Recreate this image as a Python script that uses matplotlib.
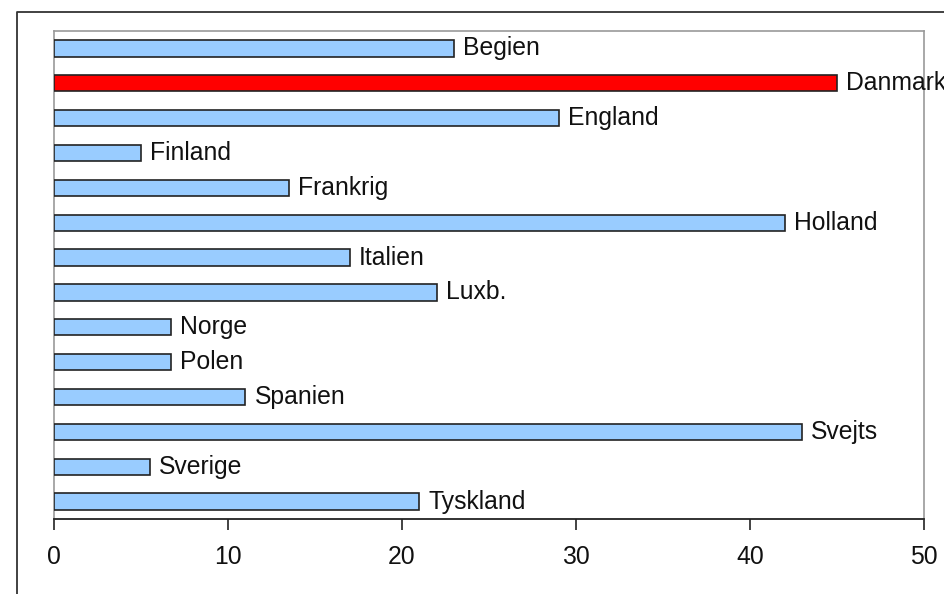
import matplotlib
matplotlib.use("Agg")
import matplotlib.pyplot as plt
from matplotlib.lines import Line2D

categories = ["Begien", "Danmark", "England", "Finland", "Frankrig", "Holland",
              "Italien", "Luxb.", "Norge", "Polen", "Spanien", "Svejts",
              "Sverige", "Tyskland"]
values = [23, 45, 29, 5, 13.5, 42, 17, 22, 6.7, 6.7, 11, 43, 5.5, 21]
highlight = "Danmark"
xticks = [0, 10, 20, 30, 40, 50]

W, H = 944, 594
fig = plt.figure(figsize=(W / 100, H / 100), dpi=100)
fig.patch.set_facecolor("white")

# outer frame (partially visible)
fig.add_artist(Line2D([17 / W, 17 / W, 1.0], [0.0, 1 - 11.5 / H, 1 - 11.5 / H],
                      transform=fig.transFigure, color="#333333", lw=1.3))

ax = fig.add_axes([54 / W, 1 - 519 / H, (924 - 54) / W, (519 - 31) / H])
colors = ["#FF0000" if c == highlight else "#99CCFF" for c in categories]
ypos = list(range(len(categories)))
ax.barh(ypos, values, height=0.47, color=colors, edgecolor="#222222",
        linewidth=1.2, zorder=3)

for y, v, c in zip(ypos, values, categories):
    ax.text(v + 0.52, y, c, va="center", ha="left", fontsize=17.8,
            family="Liberation Sans", color="#111111", clip_on=False, zorder=4)

ax.set_xlim(0, 50)
ax.set_ylim(13.5, -0.5)
ax.set_yticks([])
ax.set_xticks(xticks)
ax.set_xticklabels([str(t) for t in xticks], family="Liberation Sans",
                   fontsize=17.8, color="#111111")
ax.tick_params(axis="x", direction="out", length=8, width=1.2, pad=11,
               color="#222222")
for s in ["top", "right", "left"]:
    ax.spines[s].set_color("#999999")
    ax.spines[s].set_linewidth(1.2)
ax.spines["bottom"].set_color("#222222")
ax.spines["bottom"].set_linewidth(1.3)

fig.savefig("out.png", dpi=100, facecolor="white")
